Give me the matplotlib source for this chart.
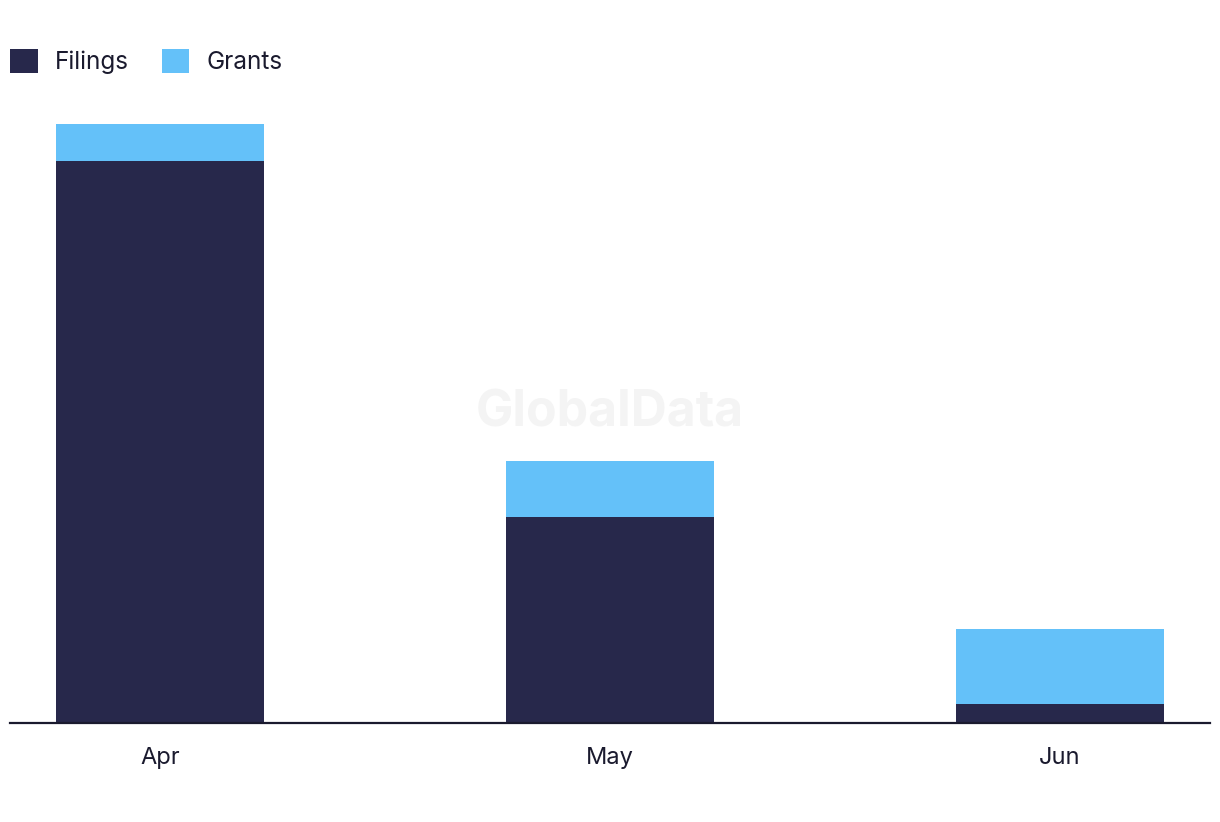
import matplotlib.pyplot as plt

# data
months = ['Apr', 'May', 'Jun']
filings = [30, 11, 1]
grants = [2, 3, 4]

navy = '#27284b'
blue = '#64c1f9'

plt.rcParams['font.family'] = ['Inter', 'DejaVu Sans']

fig = plt.figure(figsize=(12.2, 8.22), dpi=100)
ax = fig.add_axes([10 / 1220, 99 / 822, 1200 / 1220, 623 / 822])

x = list(range(len(months)))
ax.bar(x, filings, width=0.463, color=navy, label='Filings', zorder=2)
ax.bar(x, grants, width=0.463, bottom=filings, color=blue, label='Grants', zorder=2)

ax.set_xlim(-0.333, 2.333)
ax.set_ylim(0, 33.28)
ax.set_xticks(x)
ax.set_xticklabels(months, fontsize=17, color='#1a1a2e')
ax.tick_params(axis='x', length=0, pad=17)
ax.set_yticks([])

for side in ['top', 'right', 'left']:
    ax.spines[side].set_visible(False)
ax.spines['bottom'].set_color('#1a1a2e')
ax.spines['bottom'].set_linewidth(1.6)
ax.spines['bottom'].set_zorder(3)

# watermark
fig.text(0.5, 0.497, 'GlobalData', ha='center', va='center', fontsize=36,
         fontweight='bold', color='#f4f4f4', zorder=0)

leg = fig.legend(loc='upper left', bbox_to_anchor=(0.0, 0.952), ncol=2,
                 frameon=False, fontsize=17.5, handlelength=1.15, handleheight=1.15,
                 handletextpad=0.7, columnspacing=1.35, borderaxespad=0)
for t in leg.get_texts():
    t.set_color('#1a1a2e')

fig.savefig('out.png', dpi=100)
